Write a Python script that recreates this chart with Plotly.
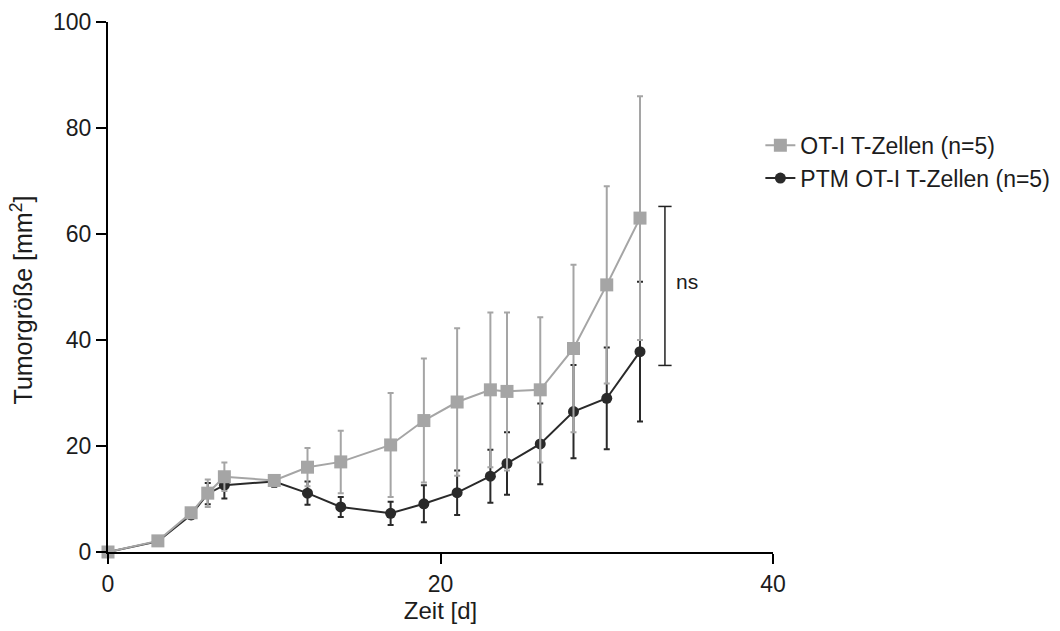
import plotly.graph_objects as go

# Measurement days
days = [0, 3, 5, 6, 7, 10, 12, 14, 17, 19, 21, 23, 24, 26, 28, 30, 32]

# Mean tumour area (mm²) and SEM per group
ot1_mean = [0, 2.1, 7.4, 11.1, 14.2, 13.5, 16.0, 17.0, 20.2, 24.8, 28.3, 30.6, 30.3, 30.6, 38.4, 50.4, 63.0]
ot1_sem = [0, 0.3, 0.8, 2.6, 2.7, 1.0, 3.6, 5.9, 9.8, 11.7, 13.9, 14.6, 14.9, 13.7, 15.8, 18.6, 23.0]

ptm_mean = [0, 2.0, 7.0, 11.0, 12.6, 13.3, 11.1, 8.5, 7.3, 9.1, 11.2, 14.3, 16.7, 20.4, 26.5, 29.0, 37.8]
ptm_sem = [0, 0.3, 0.7, 2.0, 2.5, 1.0, 2.2, 1.9, 2.2, 3.5, 4.2, 5.0, 5.9, 7.6, 8.8, 9.6, 13.2]

series_names = ["OT-I T-Zellen (n=5)", "PTM OT-I T-Zellen (n=5)"]

GRAY = "#a5a5a5"
DARK = "#2a2a2a"
TEXT = "#1c1c1c"
FONT = "Liberation Sans, Arial, sans-serif"

fig = go.Figure()

fig.add_trace(go.Scatter(
    x=days, y=ptm_mean, name=series_names[1], mode="lines+markers",
    line=dict(color=DARK, width=2),
    marker=dict(symbol="circle", size=11, color=DARK),
    error_y=dict(type="data", array=ptm_sem, color=DARK, thickness=2, width=3),
    cliponaxis=False,
))

fig.add_trace(go.Scatter(
    x=days, y=ot1_mean, name=series_names[0], mode="lines+markers",
    line=dict(color=GRAY, width=2),
    marker=dict(symbol="square", size=13, color=GRAY),
    error_y=dict(type="data", array=ot1_sem, color=GRAY, thickness=2, width=3),
    cliponaxis=False,
))

# Significance bracket at the last time point
br_x, br_top, br_bot = 33.5, 65.2, 35.2
fig.add_shape(type="line", x0=br_x, x1=br_x, y0=br_bot, y1=br_top,
              line=dict(color="#222222", width=1.5), xref="x", yref="y")
for yy in (br_top, br_bot):
    fig.add_shape(type="line", x0=br_x - 0.4, x1=br_x + 0.4, y0=yy, y1=yy,
                  line=dict(color="#222222", width=1.5), xref="x", yref="y")
fig.add_annotation(x=br_x + 0.55, y=51, text="ns", showarrow=False, xanchor="left",
                   font=dict(family=FONT, size=21, color=TEXT))

# Y-axis title, placed as a rotated annotation
fig.add_annotation(x=-0.129, y=0.475, xref="paper", yref="paper",
                   text="Tumorgröße [mm<sup>2</sup>]", textangle=-90, showarrow=False,
                   xanchor="center", yanchor="middle",
                   font=dict(family=FONT, size=25, color=TEXT))

axis_common = dict(
    showgrid=False, zeroline=False, showline=True, linecolor="black", linewidth=2,
    ticks="outside", ticklen=10, tickwidth=2, tickcolor="black",
    tickfont=dict(family=FONT, size=23, color=TEXT), automargin=False,
)

fig.update_layout(
    width=1060, height=631,
    margin=dict(l=108, r=287, t=22, b=79, autoexpand=False),
    paper_bgcolor="white", plot_bgcolor="white",
    xaxis=dict(range=[0, 40], tickvals=[0, 20, 40],
               title=dict(text="Zeit [d]", font=dict(family=FONT, size=24, color=TEXT), standoff=2),
               **axis_common),
    yaxis=dict(range=[0, 100], tickvals=[0, 20, 40, 60, 80, 100], **axis_common),
    legend=dict(x=0.981, y=0.808, xanchor="left", yanchor="top", traceorder="reversed",
                font=dict(family=FONT, size=23, color=TEXT),
                bgcolor="rgba(0,0,0,0)", itemwidth=30, tracegroupgap=4),
    showlegend=True,
)

fig.write_html("out.html")
